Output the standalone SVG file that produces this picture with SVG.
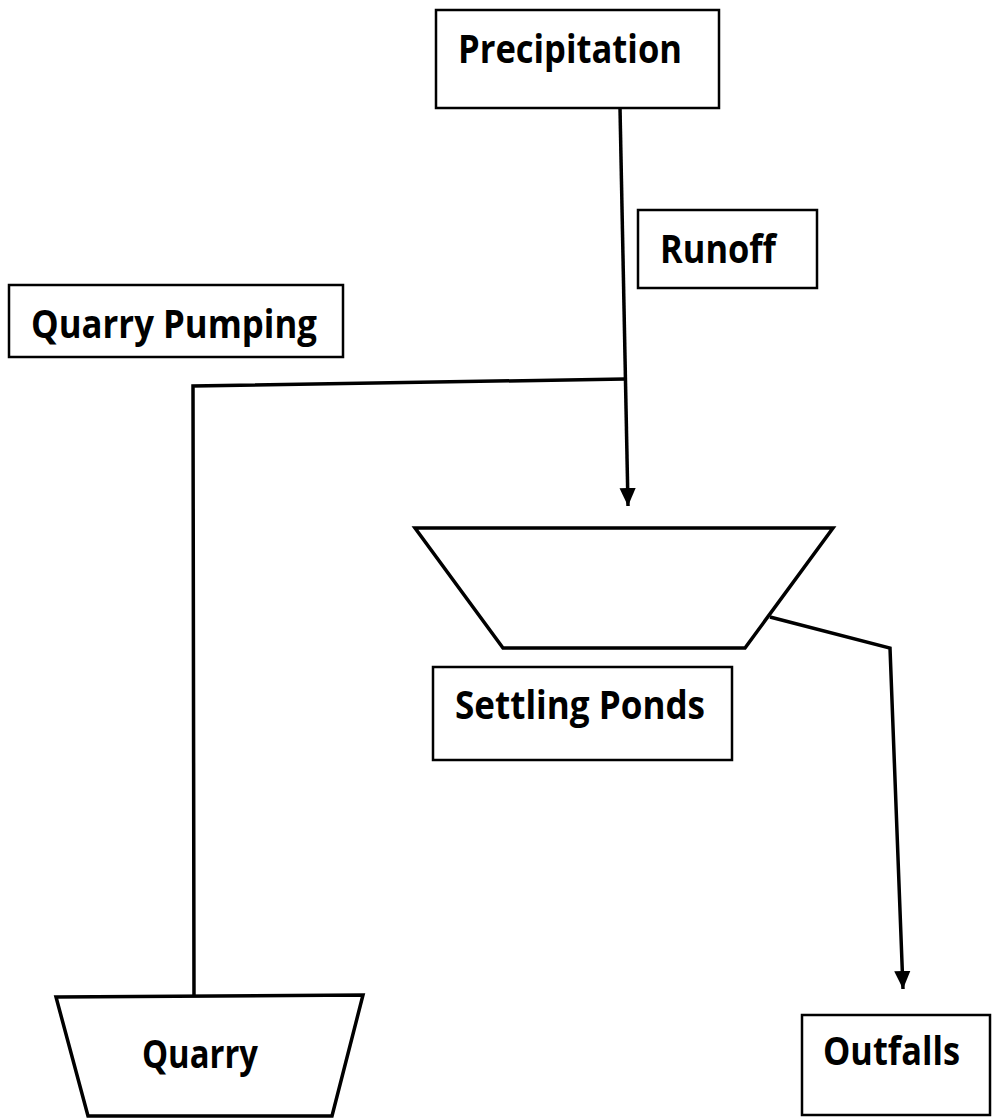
<svg xmlns="http://www.w3.org/2000/svg" width="993" height="1118" viewBox="0 0 993 1118">
<defs>
<style>
.box{fill:#fff;stroke:#000;stroke-width:2.5}
.shape{fill:#fff;stroke:#000;stroke-width:3.5;stroke-linejoin:miter}
.lbl{font-family:"Open Sans","Noto Sans",sans-serif;font-weight:bold;font-size:39px;fill:#000}
.conn{fill:none;stroke:#000;stroke-width:3.5}
</style>
<marker id="arr" viewBox="0 0 10 10" refX="10" refY="5" markerWidth="18" markerHeight="18" markerUnits="userSpaceOnUse" orient="auto">
<path d="M0,0.5 L10,5 L0,9.5 z" fill="#000"/>
</marker>
</defs>
<rect width="993" height="1118" fill="#fff"/>
<g id="connectors">
<path class="conn" d="M620,108 L628,506" marker-end="url(#arr)"/>
<path class="conn" d="M625,379 L193,386 L194,997"/>
<path class="conn" d="M770,617 L890,648 L903,989" marker-end="url(#arr)"/>
</g>
<g id="precipitation">
<rect class="box" x="436" y="10" width="283" height="98"/>
<text class="lbl" x="458" y="63" textLength="224" lengthAdjust="spacingAndGlyphs">Precipitation</text>
</g>
<g id="runoff">
<rect class="box" x="638" y="210" width="179" height="78"/>
<text class="lbl" x="660" y="263" textLength="116" lengthAdjust="spacingAndGlyphs">Runoff</text>
</g>
<g id="quarry-pumping">
<rect class="box" x="9" y="285" width="334" height="72"/>
<text class="lbl" x="31" y="338" textLength="286" lengthAdjust="spacingAndGlyphs">Quarry Pumping</text>
</g>
<g id="settling-ponds-shape">
<polygon class="shape" points="415,528 833,528 745,648 503,648"/>
</g>
<g id="settling-ponds">
<rect class="box" x="433" y="667" width="299" height="93"/>
<text class="lbl" x="455" y="719" textLength="250" lengthAdjust="spacingAndGlyphs">Settling Ponds</text>
</g>
<g id="quarry">
<polygon class="shape" points="56,997 363,995 332,1116 88,1116"/>
<text class="lbl" x="142" y="1068" textLength="116" lengthAdjust="spacingAndGlyphs">Quarry</text>
</g>
<g id="outfalls">
<rect class="box" x="802" y="1015" width="188" height="100"/>
<text class="lbl" x="823" y="1065" textLength="137" lengthAdjust="spacingAndGlyphs">Outfalls</text>
</g>
</svg>
